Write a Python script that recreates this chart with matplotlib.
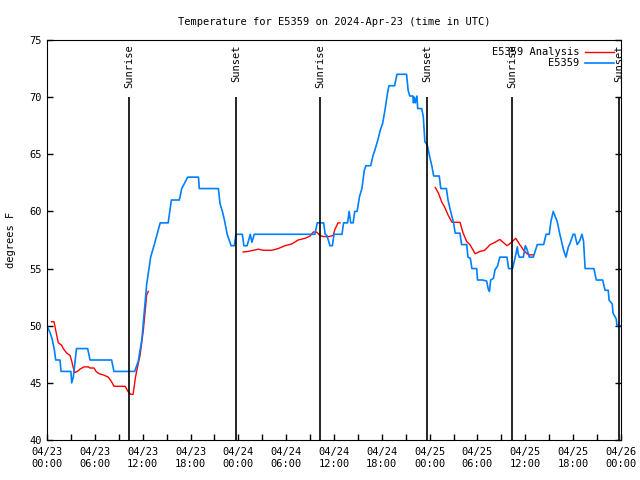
import numpy as np
import matplotlib
matplotlib.use("Agg")
import matplotlib.pyplot as plt

# hours since 2024-04-23 00:00 UTC
blue_hours = [
    0, 0.38, 0.66, 0.92, 1.09, 1.63, 1.76, 3.0, 3.1, 3.3, 3.7, 5.1, 5.4, 8.1, 8.4,
    11.0, 11.45, 11.9, 12.3, 12.5, 13.0, 13.5, 14.2, 15.2, 15.6, 16.6, 16.9, 17.65,
    19.0, 19.1, 21.5, 21.7, 22.0, 22.3, 22.6, 23.1, 23.5, 23.7, 24.5, 24.7, 25.1,
    25.5, 25.7, 26.0, 33.6, 33.9, 34.7, 34.9, 35.1, 35.5, 35.8, 36.0, 37.0, 37.2,
    37.7, 37.9, 38.1, 38.4, 38.6, 38.9, 39.2, 39.5, 39.8, 40.0, 40.6, 40.9, 41.1,
    41.5, 41.8, 42.1, 42.4, 42.7, 42.9, 43.6, 43.9, 45.1, 45.3, 45.5, 45.9, 45.96,
    46.07, 46.2, 46.4, 46.5, 47.0, 47.2, 47.4, 47.7, 48.0, 48.3, 48.5, 49.2, 49.4,
    50.1, 50.3, 50.6, 51.0, 51.2, 51.8, 52.0, 52.65, 52.8, 53.1, 53.3, 53.9, 54.0,
    54.65, 55.15, 55.35, 55.5, 55.65, 56.0, 56.2, 56.5, 56.8, 57.7, 57.9, 58.4,
    58.7, 59.0, 59.1, 59.25, 59.75, 60.0, 60.2, 60.5, 61.0, 61.5, 62.3, 62.6, 63.0,
    63.2, 63.5, 64.0, 64.3, 64.6, 64.8, 65.1, 65.4, 65.6, 66.0, 66.2, 66.5, 66.8,
    67.1, 67.3, 67.5, 68.6, 68.9, 69.7, 70.0, 70.4, 70.5, 70.9, 71.0, 71.4, 71.5,
    72.0,
]
blue_temps = [
    50, 49.4, 48.8, 47.9, 47, 47, 46, 46, 45, 45.5, 48, 48, 47, 47, 46,
    46, 46.9, 48.8, 52, 53.6, 56, 57.2, 59, 59, 61, 61, 62, 63,
    63, 62, 62, 60.7, 60, 59.1, 58, 57, 57, 58, 58, 57, 57,
    58, 57.3, 58, 58, 59, 59, 58, 57.9, 57, 57, 58, 58, 59,
    59, 60, 59, 59, 60, 60, 61.3, 62, 63.6, 64, 64, 64.9, 65.3,
    66.25, 67.1, 67.7, 68.9, 70.3, 71, 71, 72, 72, 70.6, 70.1, 70.1, 69.5,
    70, 69.5, 70.1, 69, 69, 68.3, 66.1, 65.8, 64.8, 63.9, 63.1, 63.1, 62,
    62, 61, 60.1, 59, 58.1, 58.1, 57.1, 57.1, 56, 55.9, 55, 55, 54,
    54, 53.9, 53.2, 53, 54, 54.15, 54.9, 55.2, 56, 56, 55, 55,
    55.9, 56.9, 56.3, 56, 56, 57, 56.7, 56, 56, 57.1, 57.1, 58, 58,
    59.1, 60, 59.1, 58.1, 57.2, 56.6, 56, 56.9, 57.2, 58, 58, 57.1, 57.4,
    58, 57.4, 55, 55, 54, 54, 53.1, 53.1, 52.25, 51.9, 51.1, 50.6, 50,
    50,
]

# analysis series, NaN marks gaps
red_hours = [
    0.59, 0.88, 1.09, 1.42, 1.84, 2.04, 2.47, 2.89, 3.1, 3.3, 3.5, 3.8, 4.14, 4.64,
    5.18, 5.39, 5.9, 6.15, 6.52, 7.06, 7.69, 8.1, 8.4, 9.8, 10.2, 10.5, 10.8, 11.1,
    11.45, 11.67, 11.88, 12.08, 12.29, 12.5, 12.7, np.nan,
    24.6, 25.25, 25.9, 26.5, 27.1, 28.2, 29.0, 29.85, 30.7, 31.5, 32.4, 33.0, 33.4,
    33.8, 34.25, 34.65, 35.4, 35.9, 36.1, 36.5, 36.75, np.nan,
    48.7, 49.1, 49.5, 49.9, 50.3, 50.8, 51.8, 52.2, 52.65, 53.05, 53.7, 54.3, 54.9,
    55.6, 56.2, 56.8, 57.7, 58.1, 58.8, 59.3, 59.8, 60.2, 60.5, 61.0,
]
red_temps = [
    50.35, 50.35, 49.6, 48.5, 48.3, 48.0, 47.6, 47.4, 46.9, 46.3, 45.9, 46.0, 46.2, 46.4,
    46.4, 46.3, 46.3, 46.0, 45.8, 45.7, 45.5, 45.1, 44.7, 44.7, 44.2, 44.0, 44.0, 45.5,
    46.7, 47.4, 48.5, 49.6, 51.1, 52.7, 53.0, np.nan,
    56.45, 56.5, 56.6, 56.7, 56.6, 56.6, 56.75, 57.0, 57.15, 57.5, 57.65, 57.85, 58.2,
    58.2, 57.9, 57.8, 57.8, 57.9, 58.4, 59.0, 59.0, np.nan,
    62.1, 61.6, 60.85, 60.35, 59.7, 59.05, 59.05, 58.1, 57.35, 57.1, 56.3, 56.5, 56.6,
    57.1, 57.3, 57.55, 57.0, 57.2, 57.65, 57.1, 56.6, 56.3, 56.2, 56.2,
]

sun_hours = [10.3, 23.7, 34.25, 47.7, 58.3, 71.8]
sun_labels = ["Sunrise", "Sunset", "Sunrise", "Sunset", "Sunrise", "Sunset"]

xtick_hours = [0, 6, 12, 18, 24, 30, 36, 42, 48, 54, 60, 66, 72]
xtick_labels = [
    "04/23\n00:00", "04/23\n06:00", "04/23\n12:00", "04/23\n18:00",
    "04/24\n00:00", "04/24\n06:00", "04/24\n12:00", "04/24\n18:00",
    "04/25\n00:00", "04/25\n06:00", "04/25\n12:00", "04/25\n18:00",
    "04/26\n00:00",
]

plt.rcParams["font.family"] = "DejaVu Sans Mono"
plt.rcParams["font.size"] = 7.5

fig = plt.figure(figsize=(6.4, 4.8), dpi=100)
ax = fig.add_axes([47 / 640, 40 / 480, 574 / 640, 400 / 480])

ax.plot(red_hours, red_temps, color="#ff0000", lw=1.0, label="E5359 Analysis")
ax.plot(blue_hours, blue_temps, color="#0080ff", lw=1.2, label="E5359")

ax.vlines(sun_hours, 40, 70, color="black", lw=1.2)
for h, lab in zip(sun_hours, sun_labels):
    ax.text(h, 74.6, lab, rotation=90, ha="center", va="top", fontsize=7.5)

ax.set_xlim(0, 72)
ax.set_ylim(40, 75)
ax.set_xticks(xtick_hours)
ax.set_xticklabels(xtick_labels)
ax.set_xticks(np.arange(0, 73, 3), minor=True)
ax.set_yticks(np.arange(40, 76, 5))
ax.tick_params(which="both", direction="in", length=4, right=True, width=1)
ax.tick_params(axis="x", pad=5)
ax.set_ylabel("degrees F", labelpad=10)
ax.set_title("Temperature for E5359 on 2024-Apr-23 (time in UTC)", fontsize=7.5, pad=11)

ax.legend(loc="upper right", frameon=False, markerfirst=False, handlelength=2.8,
          borderaxespad=0.3, labelspacing=0.1, handletextpad=0.5)

fig.savefig("out.png", dpi=100)
